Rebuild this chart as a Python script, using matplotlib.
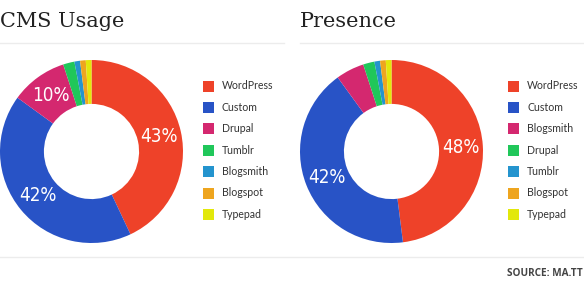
import matplotlib
matplotlib.use("Agg")
import matplotlib.pyplot as plt
from matplotlib.patches import Rectangle
from matplotlib.lines import Line2D
import numpy as np

W, H = 584, 290

colors = ["#EE4229", "#2853C6", "#D4286F", "#20C75A", "#2494CE", "#EEA51F", "#E2E80B"]

cms_title = "CMS Usage"
cms_labels = ["WordPress", "Custom", "Drupal", "Tumblr", "Blogsmith", "Blogspot", "Typepad"]
cms_values = [43, 42, 10, 2, 1, 1, 1]

pres_title = "Presence"
pres_labels = ["WordPress", "Custom", "Blogsmith", "Drupal", "Tumblr", "Blogspot", "Typepad"]
pres_values = [48, 42, 5, 2, 1, 1, 1]

source_text = "SOURCE: MA.TT"

fig = plt.figure(figsize=(W / 100, H / 100), dpi=100)
fig.patch.set_facecolor("white")


def fx(px):
    return px / W


def fy(py):
    return 1 - py / H


def donut(cx, cy, r, values, labels, title, tx, line_x0, line_x1, leg_sq_x, leg_txt_x):
    ax = fig.add_axes([fx(cx - r), fy(cy + r), 2 * r / W, 2 * r / H])
    width = 0.48
    wedges, _ = ax.pie(values, colors=colors, startangle=90, counterclock=False,
                       radius=1, wedgeprops=dict(width=width, linewidth=0))
    ax.set_xlim(-1, 1)
    ax.set_ylim(-1, 1)
    ax.set_aspect("equal")
    ax.axis("off")
    total = float(sum(values))
    rr = 1 - width / 2
    for w, v in zip(wedges, values):
        if v / total >= 0.08:
            ang = np.deg2rad((w.theta1 + w.theta2) / 2)
            ax.text(rr * np.cos(ang), rr * np.sin(ang), f"{v:.0f}%",
                    ha="center", va="center", color="white", fontsize=13.5,
                    family=["DejaVu Sans"], fontstretch="condensed")
    # title
    fig.text(fx(tx), fy(27), title, ha="left", va="baseline", fontsize=15,
             family=["DejaVu Serif"], color="#222222")
    fig.add_artist(Line2D([fx(line_x0), fx(line_x1)], [fy(43), fy(43)],
                          color="#ECECEC", linewidth=1.0))
    # legend
    row0 = 86
    step = 21.4
    sq = 11
    for i, (lab, c) in enumerate(zip(labels, colors)):
        yc = row0 + i * step
        fig.add_artist(Rectangle((fx(leg_sq_x), fy(yc + sq / 2)), sq / W, sq / H,
                                 facecolor=c, edgecolor="none"))
        fig.text(fx(leg_txt_x), fy(yc), lab, ha="left", va="center", fontsize=7.6,
                 family=["Lato", "DejaVu Sans"], color="#333333")
    return ax


donut(91.5, 151.5, 91.5, cms_values, cms_labels, cms_title, 0, 0, 284, 203, 222)
donut(391.5, 151.5, 91.5, pres_values, pres_labels, pres_title, 300, 300, 584, 508, 527)

fig.add_artist(Line2D([0, 1], [fy(257), fy(257)], color="#ECECEC", linewidth=1.0))
fig.text(fx(583), fy(273), source_text, ha="right", va="center", fontsize=7.2,
         fontweight="bold", family=["Open Sans", "DejaVu Sans"], color="#444444")

fig.savefig("out.png", dpi=100, facecolor="white")
